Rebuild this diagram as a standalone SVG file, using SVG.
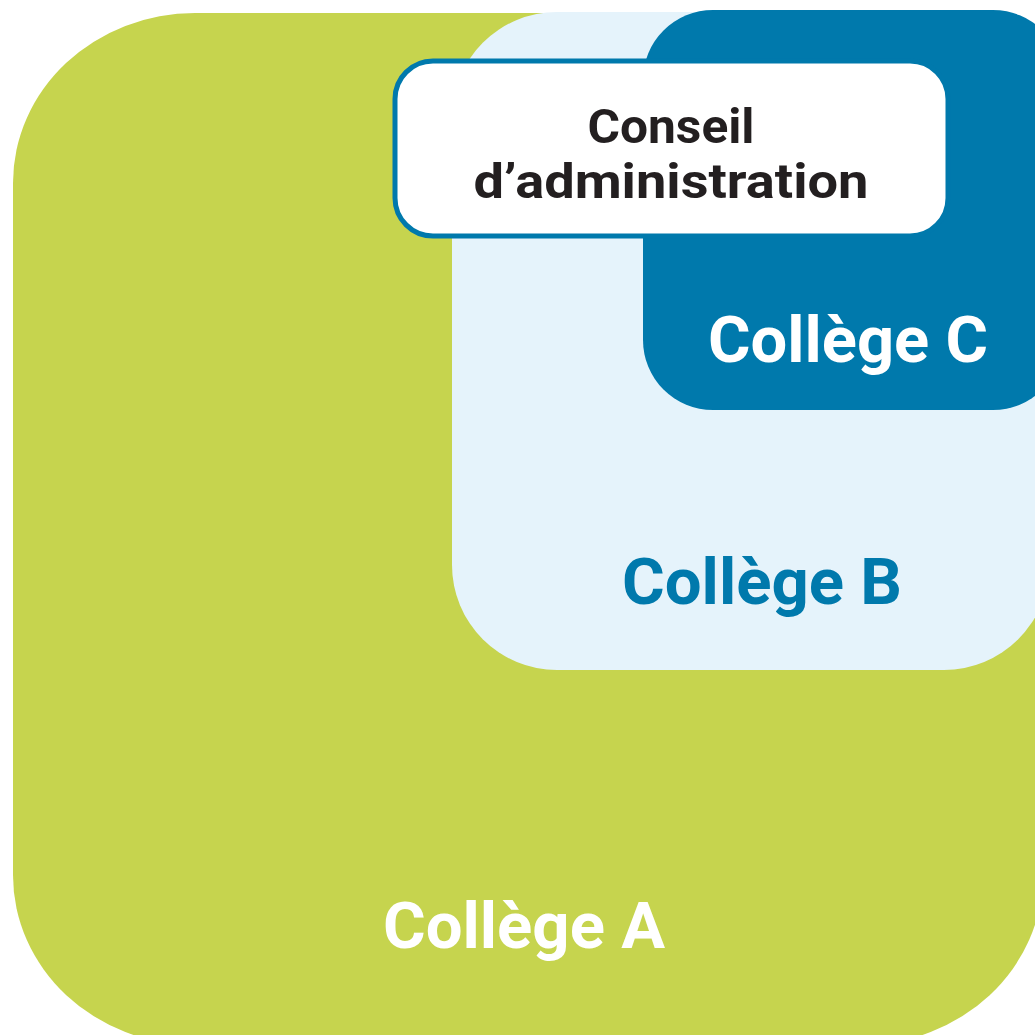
<svg xmlns="http://www.w3.org/2000/svg" width="1035" height="1035" viewBox="0 0 1035 1035">
  <style>
    .lbl { font-family: Roboto, "Liberation Sans", "DejaVu Sans", sans-serif; font-weight: bold; text-anchor: middle; }
    .big { font-size: 64px; }
    .ca { font-size: 48px; fill: #231F20; }
  </style>
  <rect width="1035" height="1035" fill="#ffffff"/>
  <g id="college-a">
    <rect x="13" y="13" width="1030" height="1032" rx="182" ry="170" fill="#C6D44E"/>
    <text class="lbl big" x="524" y="948" fill="#ffffff" textLength="282" lengthAdjust="spacingAndGlyphs">Collège A</text>
  </g>
  <g id="college-b">
    <rect x="452" y="12" width="597" height="658" rx="105" ry="105" fill="#E5F3FB"/>
    <text class="lbl big" x="762" y="604" fill="#0079AC" textLength="280" lengthAdjust="spacingAndGlyphs">Collège B</text>
  </g>
  <g id="college-c">
    <rect x="643" y="10" width="420" height="400" rx="70" ry="70" fill="#0079AC"/>
    <text class="lbl big" x="848" y="362" fill="#ffffff" textLength="280" lengthAdjust="spacingAndGlyphs">Collège C</text>
  </g>
  <g id="conseil">
    <rect x="395" y="61" width="553" height="175" rx="38" ry="38" fill="#ffffff" stroke="#0079AC" stroke-width="5"/>
    <text class="lbl ca" x="671" y="143" textLength="167" lengthAdjust="spacingAndGlyphs">Conseil</text>
    <text class="lbl ca" x="671" y="198" textLength="395" lengthAdjust="spacingAndGlyphs">d’administration</text>
  </g>
  <g id="connectors"/>
</svg>
